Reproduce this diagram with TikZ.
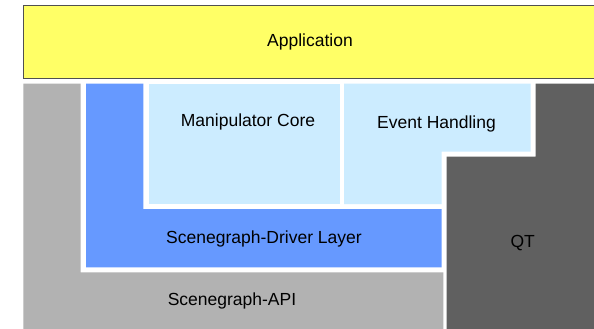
\documentclass[tikz,border=0pt]{standalone}
\usepackage{fontspec}
\setmainfont{Liberation Sans}
\definecolor{appyellow}{HTML}{FFFF66}
\definecolor{apigray}{HTML}{B2B2B2}
\definecolor{drvblue}{HTML}{6699FF}
\definecolor{corelight}{HTML}{CCECFF}
\definecolor{qtdark}{HTML}{606060}
\definecolor{appedge}{HTML}{505050}
\tikzset{
  lbl/.style={font=\fontsize{17.5}{20}\selectfont, text=black, inner sep=0pt},
}
\begin{document}
\begin{tikzpicture}[x=1pt,y=-1pt]
\useasboundingbox (0,0) rectangle (594,329);
\fill[white] (0,0) rectangle (594,329);
\begin{scope}
\clip (0,0) rectangle (594,329);
% Application
\draw[fill=appyellow, draw=appedge, line width=1.3pt] (23.5,5.5) rectangle (610,78.5);
% Scenegraph-API (L shape)
\fill[apigray] (23.3,83.5) -- (80.5,83.5) -- (80.5,272.3) -- (443.3,272.3) -- (443.3,340) -- (23.3,340) -- cycle;
% Scenegraph-Driver Layer (L shape)
\fill[drvblue] (86,83.5) -- (143.3,83.5) -- (143.3,209) -- (441.7,209) -- (441.7,267.3) -- (86,267.3) -- cycle;
% Manipulator Core
\fill[corelight] (148.7,83.5) rectangle (340,204);
% Event Handling (L shape)
\fill[corelight] (344,83.5) -- (530.7,83.5) -- (530.7,151.7) -- (441.7,151.7) -- (441.7,204) -- (344,204) -- cycle;
% QT (L shape)
\fill[qtdark] (535.7,83.5) -- (610,83.5) -- (610,340) -- (446.7,340) -- (446.7,156.7) -- (535.7,156.7) -- cycle;
\end{scope}
\node[lbl] (app) at (310,42) {Application};
\node[lbl] (core) at (248,122) {Manipulator Core};
\node[lbl] (event) at (436.5,124) {Event Handling};
\node[lbl] (driver) at (264,239) {Scenegraph-Driver Layer};
\node[lbl] (api) at (232,301) {Scenegraph-API};
\node[lbl] (qt) at (522.7,243) {QT};
\end{tikzpicture}
\end{document}
